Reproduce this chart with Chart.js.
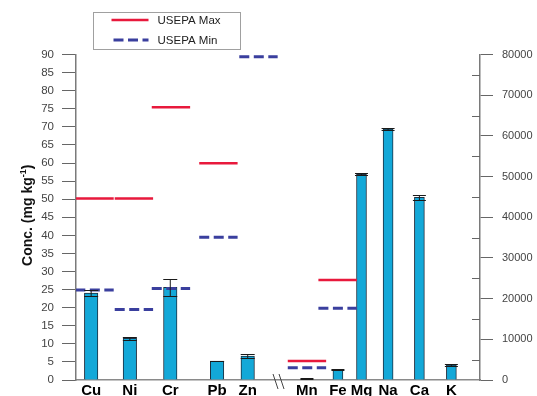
<!DOCTYPE html>
<html>
<head>
<meta charset="utf-8">
<script src="https://cdn.jsdelivr.net/npm/chart.js@4.4.0/dist/chart.umd.min.js"></script>
<style>
  html, body { margin: 0; padding: 0; background: #fff; }
  #wrap { width: 537px; height: 396px; position: relative; }
</style>
</head>
<body>
<div id="wrap"><canvas id="c" width="537" height="396"></canvas></div>
<script>
// Trace elements, mg kg-1 (left axis)
const traceElements = ['Cu', 'Ni', 'Cr', 'Pb', 'Zn'];
const traceMean     = [24.0, 11.5, 25.6, 5.25, 6.6];
const traceSd       = [0.9, 0.45, 2.3, 0.1, 0.5];
const traceUsepaMax = [50.2, 50.2, 75.4, 59.9, null];
const traceUsepaMin = [24.9, 19.5, 25.3, 39.5, 89.4];

// Major elements, mg kg-1 (right axis)
const majorElements = ['Mn', 'Fe', 'Mg', 'Na', 'Ca', 'K'];
const majorMean     = [320, 2630, 50550, 61700, 44900, 3690];
const majorSd       = [60, 150, 250, 250, 600, 200];
const majorUsepaMax = [4670, 24580, null, null, null, null];
const majorUsepaMin = [3020, 17620, null, null, null, null];

// Tick values
const leftTicks       = [0, 5, 10, 15, 20, 25, 30, 35, 40, 45, 50, 55, 60, 65, 70, 75, 80, 85, 90];
const rightMajorTicks = [0, 10000, 20000, 30000, 40000, 50000, 60000, 70000, 80000];
const rightMinorTicks = [5000, 15000, 25000, 35000, 45000, 55000, 65000, 75000];

// Where each element sits along the category axis (axis runs 0..12),
// where its guideline marks are centred, and where the axis break is
const traceSlots = [0.45, 1.6, 2.8, 4.19, 5.1];
const majorSlots = [6.86, 7.78, 8.48, 9.27, 10.2, 11.15];
const traceMarkSlots = [0.55, 1.72, 2.82, 4.23, 5.42];
const majorMarkSlots = [6.86, 7.77, 8.48, 9.27, 10.2, 11.15];
const axisBreakSlot = 6.06;

const FONT = '"Liberation Sans", Arial, Helvetica, sans-serif';
const RED = '#e8193c';
const BLUE = '#3a3f9e';
const BAR_FILL = '#13a8d8';
const BAR_EDGE = '#1d2f40';
const HALF = 0.57; // half-length of a guideline mark, in axis units

const allSlots = traceSlots.concat(majorSlots);
const allNames = traceElements.concat(majorElements);

const barPoints = (slots, vals) => slots.map((x, i) => ({ x: x, y: vals[i] }));
function standardPoints(slots, vals) {
  const pts = [];
  slots.forEach((x, i) => {
    if (vals[i] == null) return;
    pts.push({ x: x - HALF, y: vals[i] }, { x: x + HALF, y: vals[i] }, { x: x + HALF + 0.01, y: null });
  });
  return pts;
}

const lineBase = {
  type: 'line', pointRadius: 0, pointHoverRadius: 0, fill: false, tension: 0,
  spanGaps: false, borderCapStyle: 'butt', order: 0
};

const datasets = [
  Object.assign({}, lineBase, { label: 'USEPA Max', data: standardPoints(traceMarkSlots, traceUsepaMax),
    yAxisID: 'y', borderColor: RED, borderWidth: 2.5 }),
  Object.assign({}, lineBase, { label: 'USEPA Max', data: standardPoints(majorMarkSlots, majorUsepaMax),
    yAxisID: 'y2', borderColor: RED, borderWidth: 2.5 }),
  Object.assign({}, lineBase, { label: 'USEPA Min', data: standardPoints(traceMarkSlots, traceUsepaMin),
    yAxisID: 'y', borderColor: BLUE, borderWidth: 3, borderDash: [10, 4.5] }),
  Object.assign({}, lineBase, { label: 'USEPA Min', data: standardPoints(majorMarkSlots, majorUsepaMin),
    yAxisID: 'y2', borderColor: BLUE, borderWidth: 3, borderDash: [10, 4.5] }),
  { type: 'bar', label: 'trace', data: barPoints(traceSlots, traceMean), sd: traceSd, yAxisID: 'y',
    grouped: false, backgroundColor: BAR_FILL, borderColor: BAR_EDGE, borderWidth: 1,
    barThickness: 13.5, order: 1, capWidth: 14 },
  { type: 'bar', label: 'major', data: barPoints(majorSlots, majorMean), sd: majorSd, yAxisID: 'y2',
    grouped: false, backgroundColor: BAR_FILL, borderColor: BAR_EDGE, borderWidth: 1,
    barThickness: 10, order: 1, capWidth: 13 }
];

// Error bars, right-axis minor ticks, axis break, y title and legend box
const decorations = {
  id: 'decorations',
  afterDatasetsDraw(chart) {
    const ctx = chart.ctx;
    ctx.save();
    ctx.strokeStyle = '#1a1a1a';
    ctx.lineWidth = 1;
    chart.data.datasets.forEach(ds => {
      if (!ds.sd) return;
      const ys = chart.scales[ds.yAxisID];
      const xs = chart.scales.x;
      ds.data.forEach((p, i) => {
        const cx = xs.getPixelForValue(p.x);
        const top = Math.round(ys.getPixelForValue(p.y + ds.sd[i])) + 0.5;
        const bot = Math.round(ys.getPixelForValue(p.y - ds.sd[i])) + 0.5;
        const hw = ds.capWidth / 2;
        ctx.beginPath();
        ctx.moveTo(cx, top); ctx.lineTo(cx, bot);
        ctx.moveTo(cx - hw, top); ctx.lineTo(cx + hw, top);
        ctx.moveTo(cx - hw, bot); ctx.lineTo(cx + hw, bot);
        ctx.stroke();
      });
    });
    ctx.restore();
  },
  afterDraw(chart) {
    const ctx = chart.ctx;
    const area = chart.chartArea;
    const y2 = chart.scales.y2;
    const xs = chart.scales.x;
    ctx.save();

    // inner minor ticks on the right axis
    ctx.strokeStyle = '#666';
    ctx.lineWidth = 1;
    rightMinorTicks.forEach(v => {
      const py = Math.round(y2.getPixelForValue(v)) + 0.5;
      ctx.beginPath();
      ctx.moveTo(area.right - 8, py);
      ctx.lineTo(area.right, py);
      ctx.stroke();
    });

    // axis break marks
    const bx = xs.getPixelForValue(axisBreakSlot);
    ctx.strokeStyle = '#444';
    ctx.lineWidth = 1;
    ctx.beginPath();
    ctx.moveTo(bx - 7, area.bottom - 6); ctx.lineTo(bx - 2, area.bottom + 9);
    ctx.moveTo(bx - 1, area.bottom - 6); ctx.lineTo(bx + 4, area.bottom + 9);
    ctx.stroke();

    // y-axis title with superscript
    const main = 'Conc. (mg kg';
    const sup = '-1';
    const close = ')';
    ctx.fillStyle = '#111';
    ctx.font = 'bold 14px ' + FONT;
    const w1 = ctx.measureText(main).width;
    const w3 = ctx.measureText(close).width;
    ctx.font = 'bold 9px ' + FONT;
    const w2 = ctx.measureText(sup).width;
    const total = w1 + w2 + w3;
    ctx.translate(32, (area.top + area.bottom) / 2 - 2);
    ctx.rotate(-Math.PI / 2);
    ctx.textBaseline = 'alphabetic';
    ctx.textAlign = 'left';
    let tx = -total / 2;
    ctx.font = 'bold 14px ' + FONT;
    ctx.fillText(main, tx, 0);
    tx += w1;
    ctx.font = 'bold 9px ' + FONT;
    ctx.fillText(sup, tx, -6);
    tx += w2;
    ctx.font = 'bold 14px ' + FONT;
    ctx.fillText(close, tx, 0);
    ctx.setTransform(1, 0, 0, 1, 0, 0);

    // legend box
    const box = { x: 93.5, y: 12.5, w: 147, h: 37 };
    ctx.fillStyle = '#fff';
    ctx.fillRect(box.x, box.y, box.w, box.h);
    ctx.strokeStyle = '#a0a0a0';
    ctx.lineWidth = 1;
    ctx.strokeRect(box.x, box.y, box.w, box.h);
    const entries = [chart.data.datasets[0], chart.data.datasets[2]];
    entries.forEach((ds, k) => {
      const ly = box.y + 7.5 + k * 20;
      ctx.save();
      ctx.strokeStyle = ds.borderColor;
      ctx.lineWidth = ds.borderWidth;
      ctx.lineCap = 'butt';
      ctx.setLineDash(ds.borderDash || []);
      ctx.beginPath();
      ctx.moveTo(box.x + 18 + k * 2, ly);
      ctx.lineTo(box.x + 55, ly);
      ctx.stroke();
      ctx.restore();
      ctx.fillStyle = '#222';
      ctx.font = '11.5px ' + FONT;
      ctx.textAlign = 'left';
      ctx.textBaseline = 'middle';
      ctx.fillText(ds.label, box.x + 64, ly + 1);
    });
    ctx.restore();
  }
};

new Chart(document.getElementById('c'), {
  type: 'bar',
  data: { datasets: datasets },
  options: {
    responsive: false,
    animation: false,
    devicePixelRatio: 1,
    layout: { padding: { top: 54.5, right: 4, bottom: 0, left: 0 } },
    plugins: { legend: { display: false }, tooltip: { enabled: false } },
    scales: {
      x: {
        type: 'linear', min: 0, max: 12, offset: false,
        grid: { drawOnChartArea: false, drawTicks: false },
        border: { display: true, color: '#8a8a8a', width: 1.5 },
        afterBuildTicks: s => { s.ticks = allSlots.map(v => ({ value: v })); },
        afterFit: s => { s.height = 16; },
        ticks: {
          autoSkip: false, maxRotation: 0, padding: 2, color: '#000',
          font: { family: FONT, size: 15, weight: 'bold' },
          callback: (v, i) => allNames[i]
        }
      },
      y: {
        position: 'left', min: 0, max: 90,
        afterBuildTicks: s => { s.ticks = leftTicks.map(v => ({ value: v })); },
        afterFit: s => { s.width = 76; },
        grid: { drawOnChartArea: false, tickLength: 14, tickColor: '#666', lineWidth: 1 },
        border: { color: '#7a7a7a', width: 1.5 },
        ticks: { color: '#444', padding: 8, font: { family: FONT, size: 11.5 } }
      },
      y2: {
        position: 'right', min: 0, max: 80000,
        afterBuildTicks: s => {
          s.ticks = rightMajorTicks.concat(rightMinorTicks).sort((a, b) => a - b).map(v => ({ value: v }));
        },
        afterFit: s => { s.width = 53; },
        grid: {
          drawOnChartArea: false, tickLength: 13, lineWidth: 1,
          tickColor: c => rightMajorTicks.includes(c.tick.value) ? '#666' : 'rgba(0,0,0,0)'
        },
        border: { color: '#7a7a7a', width: 1.5 },
        ticks: {
          color: '#444', padding: 9, font: { family: FONT, size: 11 },
          callback: v => rightMajorTicks.includes(v) ? String(v) : ''
        }
      }
    }
  },
  plugins: [decorations]
});
</script>
</body>
</html>
